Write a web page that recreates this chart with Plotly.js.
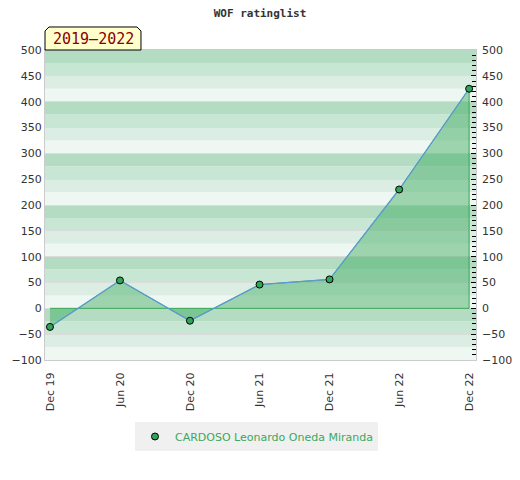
<!DOCTYPE html>
<html>
<head>
<meta charset="utf-8">
<script src="https://cdn.plot.ly/plotly-3.0.1.min.js"></script>
<style>html,body{margin:0;padding:0;background:#fff;}#chart{width:520px;height:480px;}</style>
</head>
<body>
<div id="chart"></div>
<script>
// ---- data ----
var dates = ['2019-12-01','2020-06-01','2020-12-01','2021-06-01','2021-12-01','2022-06-01','2022-12-01'];
var tickLabels = ['Dec 19','Jun 20','Dec 20','Jun 21','Dec 21','Jun 22','Dec 22'];
var ratings = [-36, 54, -24, 46, 56, 230, 425];
var playerName = 'CARDOSO Leonardo Oneda Miranda';
var chartTitle = 'WOF ratinglist';
var periodLabel = '2019\u20132022';
var yTicks = [-100,-50,0,50,100,150,200,250,300,350,400,450,500];

// background bands (every 25 units, 4-colour cycle per 100)
var bandColors = ['#eef7f1','#dceee3','#c8e6d4','#b3dcc3']; // 0-25,25-50,50-75,75-100
var shapes = [];
for (var b = -100; b < 500; b += 25) {
  var idx = (((b % 100) + 100) % 100) / 25;
  shapes.push({type:'rect', xref:'paper', yref:'y', x0:0, x1:1, y0:b, y1:b+25,
    fillcolor: bandColors[idx], line:{width:0}, layer:'below'});
}
// period label box with chamfered top corners
shapes.push({type:'path', xref:'paper', yref:'paper',
  path:'M 0,1 L 0,1.0613 L 0.0093,1.0742 L 0.2134,1.0742 L 0.2227,1.0613 L 0.2227,1 Z',
  fillcolor:'#ffffcc', line:{color:'#000', width:1}, layer:'above'});

var polyX = dates.concat([dates[dates.length-1], dates[0]]);
var polyY = ratings.concat([0, 0]);

var traces = [
  {x: polyX, y: polyY, type:'scatter', mode:'lines', fill:'toself',
   fillcolor:'rgba(58,169,93,0.45)', line:{color:'#34a853', width:1},
   showlegend:false, hoverinfo:'skip'},
  {x: dates, y: ratings, type:'scatter', mode:'lines', showlegend:false,
   line:{color:'#5b9bd5', width:1.3}, hoverinfo:'skip'},
  {x: dates, y: ratings, type:'scatter', mode:'markers', name: playerName,
   marker:{color:'#33a35a', size:7, line:{color:'#000', width:1}},
   hoverinfo:'skip'},
  {x: dates, y: ratings, type:'scatter', mode:'none', yaxis:'y2', showlegend:false, hoverinfo:'skip'}
];

var layout = {
  width:520, height:480,
  margin:{l:45, r:44, t:50, b:120},
  paper_bgcolor:'#fff', plot_bgcolor:'#fff',
  title:{text:chartTitle, font:{family:'DejaVu Sans Mono', size:11, color:'#333', weight:'bold'}, x:0.5, xanchor:'center', y:0.973, yanchor:'middle'},
  xaxis:{type:'date', range:['2019-11-18','2022-12-19'], tickvals:dates, ticktext:tickLabels,
    tickangle:-90, showgrid:false, zeroline:false, showline:true, linecolor:'#ccc', mirror:true,
    ticks:'', ticklabelstandoff:7, tickfont:{family:'DejaVu Sans', size:11, color:'#333'}},
  yaxis:{range:[-100,500], tickvals:yTicks, showgrid:true, gridcolor:'#dcdcdc', gridwidth:1,
    zeroline:false, showline:true, linecolor:'#ccc', mirror:true, ticks:'',
    tickfont:{family:'DejaVu Sans', size:11, color:'#333'}},
  yaxis2:{range:[-100,500], overlaying:'y', side:'right', tickvals:yTicks, showgrid:false, zeroline:false,
    ticks:'inside', ticklen:5, tickcolor:'#000', tickwidth:1, ticklabelstandoff:5,
    minor:{dtick:10, ticks:'inside', ticklen:4, tickcolor:'#000', tickwidth:1, showgrid:false},
    tickfont:{family:'DejaVu Sans', size:11, color:'#333'}},
  legend:{orientation:'h', x:0.4907, xanchor:'center', y:-0.2, yanchor:'top',
    bgcolor:'#f0f0f0', font:{family:'DejaVu Sans', size:11, color:'#3aa85f'}},
  shapes: shapes,
  annotations:[{xref:'paper', yref:'paper', x:0.1114, y:1.037, text:periodLabel, showarrow:false,
    font:{family:'DejaVu Sans Mono', size:15, color:'#8b0000'}, xanchor:'center', yanchor:'middle'}]
};

Plotly.newPlot('chart', traces, layout, {displayModeBar:false, staticPlot:true});
</script>
</body>
</html>
